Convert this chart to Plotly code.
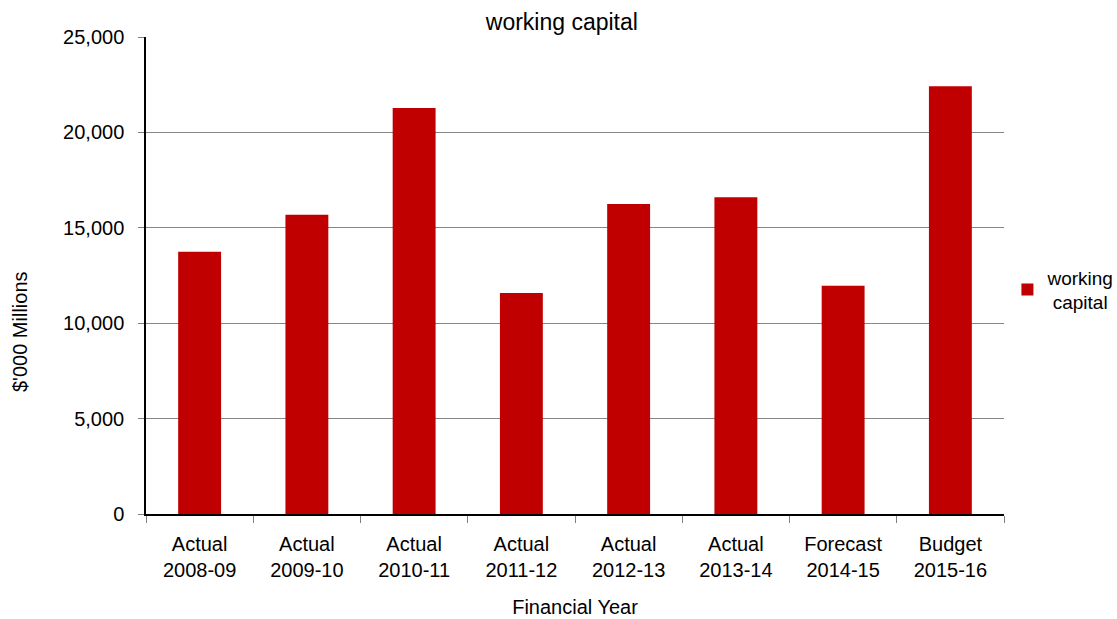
import plotly.graph_objects as go

# Financial years (two-line category labels) and working capital, $'000 Millions
years = [
    "Actual<br>2008-09",
    "Actual<br>2009-10",
    "Actual<br>2010-11",
    "Actual<br>2011-12",
    "Actual<br>2012-13",
    "Actual<br>2013-14",
    "Forecast<br>2014-15",
    "Budget<br>2015-16",
]
working_capital = [13750, 15680, 21280, 11580, 16250, 16600, 11960, 22420]

y_ticks = [0, 5000, 10000, 15000, 20000, 25000]
y_tick_text = ["0", "5,000", "10,000", "15,000", "20,000", "25,000"]

FONT = "Liberation Sans, Arial, sans-serif"
BAR_RED = "#C00000"

fig = go.Figure()
fig.add_trace(
    go.Bar(
        x=years,
        y=working_capital,
        name="working<br>\u00a0capital",
        marker=dict(color=BAR_RED, line=dict(width=0)),
        showlegend=True,
    )
)

fig.update_layout(
    width=1117,
    height=619,
    paper_bgcolor="white",
    plot_bgcolor="white",
    margin=dict(l=146, r=113, t=37, b=105, autoexpand=False),
    bargap=0.6,
    font=dict(family=FONT, size=20, color="#000000"),
    title=dict(
        text="working capital",
        font=dict(family=FONT, size=23, color="#000000"),
        x=0.503,
        xref="container",
        xanchor="center",
        y=1 - 22 / 619,
        yref="container",
        yanchor="middle",
    ),
    legend=dict(
        x=1.004,
        xanchor="left",
        y=0.47,
        yanchor="middle",
        font=dict(family=FONT, size=19, color="#000000"),
        bgcolor="rgba(0,0,0,0)",
        itemclick=False,
    ),
    xaxis=dict(
        type="category",
        tickson="boundaries",
        ticks="outside",
        ticklen=7,
        tickcolor="#808080",
        tickwidth=1,
        showline=True,
        linecolor="#000000",
        linewidth=1.5,
        showgrid=False,
        ticklabelstandoff=11,
        tickfont=dict(family=FONT, size=20, color="#000000"),
        title=dict(
            text="Financial Year",
            font=dict(family=FONT, size=20, color="#000000"),
            standoff=20,
        ),
    ),
    yaxis=dict(
        range=[0, 25000],
        tickvals=y_ticks,
        ticktext=y_tick_text,
        ticks="outside",
        ticklen=6,
        tickcolor="#808080",
        tickwidth=1,
        showline=True,
        linecolor="#000000",
        linewidth=1.5,
        showgrid=True,
        gridcolor="#868686",
        gridwidth=1,
        zeroline=False,
        ticklabelstandoff=10,
        tickfont=dict(family=FONT, size=20, color="#000000"),
    ),
    annotations=[
        dict(
            text="$'000 Millions",
            textangle=-90,
            xref="paper",
            yref="paper",
            x=(20 - 146) / 858,
            y=(514 - 332) / 477,
            xanchor="center",
            yanchor="middle",
            showarrow=False,
            font=dict(family=FONT, size=20, color="#000000"),
        )
    ],
)

fig.write_html("out.html")
